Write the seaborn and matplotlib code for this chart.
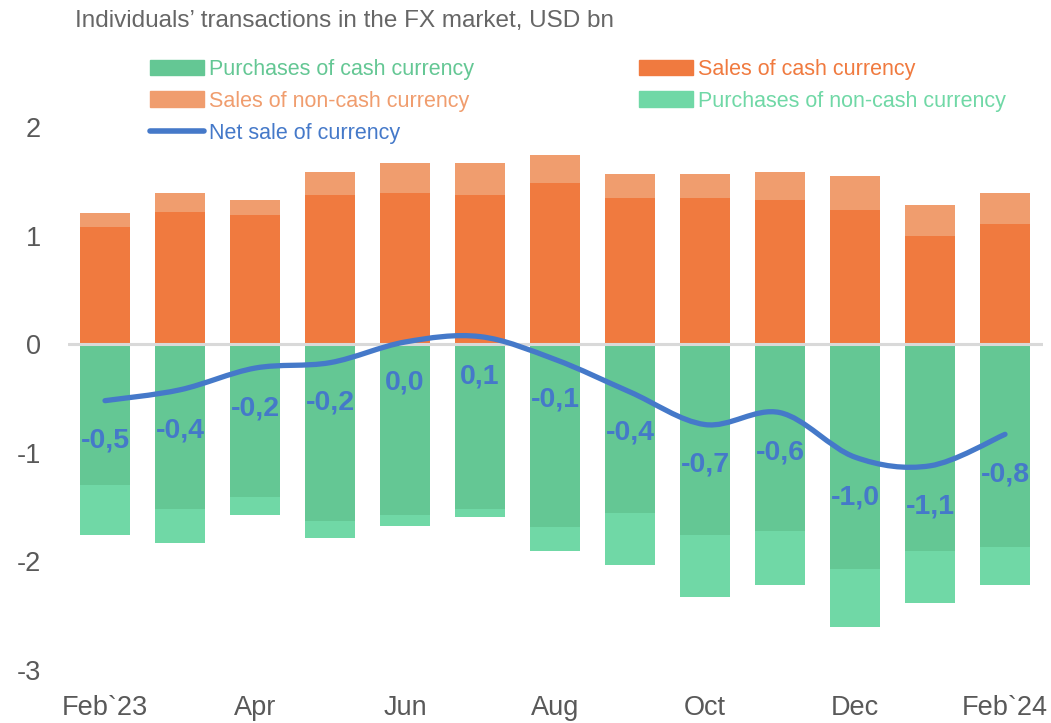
import numpy as np
import pandas as pd
import matplotlib
matplotlib.use("Agg")
import matplotlib.pyplot as plt
from matplotlib.path import Path
from matplotlib.patches import PathPatch, Patch
from matplotlib.lines import Line2D
import seaborn as sns

# values, USD bn
months = ["Feb`23", "Mar", "Apr", "May", "Jun", "Jul", "Aug",
          "Sep", "Oct", "Nov", "Dec", "Jan", "Feb`24"]
tick_labels = ["Feb`23", "Apr", "Jun", "Aug", "Oct", "Dec", "Feb`24"]
sales_cash = [1.08, 1.22, 1.19, 1.37, 1.39, 1.37, 1.48, 1.35, 1.35, 1.33, 1.24, 1.00, 1.11]
sales_noncash = [0.13, 0.17, 0.14, 0.22, 0.28, 0.30, 0.26, 0.22, 0.22, 0.26, 0.31, 0.28, 0.28]
purchases_cash = [1.30, 1.52, 1.41, 1.63, 1.57, 1.52, 1.68, 1.55, 1.76, 1.72, 2.07, 1.90, 1.87]
purchases_noncash = [0.46, 0.31, 0.16, 0.15, 0.10, 0.07, 0.22, 0.48, 0.57, 0.50, 0.53, 0.48, 0.35]
net_sale = [-0.52, -0.42, -0.22, -0.17, 0.02, 0.07, -0.14, -0.44, -0.74, -0.63, -1.04, -1.12, -0.83]

df = pd.DataFrame({
    "month": months,
    "sales_cash": sales_cash,
    "sales_total": np.add(sales_cash, sales_noncash),
    "purch_cash": -np.array(purchases_cash),
    "purch_total": -np.add(purchases_cash, purchases_noncash),
    "net": net_sale,
})

c_sales = "#F07A3F"
c_sales_nc = "#F09D6E"
c_purch = "#64C794"
c_purch_nc = "#70D8A6"
c_net = "#4579C9"
c_text = "#595959"

sns.set_style("white")
plt.rcParams["font.family"] = ["Liberation Sans", "DejaVu Sans"]

fig = plt.figure(figsize=(10.51, 7.23), dpi=100)
ax = fig.add_axes([67.5 / 1051, 53 / 723, 975 / 1051, 543 / 723])

bar_kw = dict(x="month", order=months, width=0.67, saturation=1, linewidth=0, ax=ax)
# totals first, cash parts drawn over them -> stacked look
sns.barplot(data=df, y="sales_total", color=c_sales_nc, **bar_kw)
sns.barplot(data=df, y="sales_cash", color=c_sales, **bar_kw)
sns.barplot(data=df, y="purch_total", color=c_purch_nc, **bar_kw)
sns.barplot(data=df, y="purch_cash", color=c_purch, **bar_kw)

ax.axhline(0, color="#D9D9D9", lw=2.2, zorder=3)

# smoothed net line (bezier through the monthly points)
pts = np.column_stack([np.arange(len(net_sale)), net_sale])
verts = [pts[0]]
codes = [Path.MOVETO]
for i in range(len(pts) - 1):
    p0 = pts[max(i - 1, 0)]
    p1 = pts[i]
    p2 = pts[i + 1]
    p3 = pts[min(i + 2, len(pts) - 1)]
    verts += [p1 + (p2 - p0) / 6, p2 - (p3 - p1) / 6, p2]
    codes += [Path.CURVE4] * 3
ax.add_patch(PathPatch(Path(verts, codes), fill=False, edgecolor=c_net,
                       lw=3.8, capstyle="round", joinstyle="round", zorder=4))

for i, v in enumerate(net_sale):
    ax.annotate(f"{v:.1f}".replace(".", ","), (i, v), xytext=(0, -29),
                textcoords="offset points", ha="center", va="center",
                fontsize=20.5, fontweight="bold", color=c_net, zorder=5)

ax.set_xlim(-0.5, len(months) - 0.5)
ax.set_ylim(-3, 2)
ax.set_yticks([-3, -2, -1, 0, 1, 2])
ax.set_yticklabels(["-3", "-2", "-1", "0", "1", "2"])
ax.set_xticks(range(0, len(months), 2))
ax.set_xticklabels(tick_labels)
ax.set_xlabel("")
ax.set_ylabel("")
ax.tick_params(axis="both", length=0, labelsize=19.5, labelcolor=c_text)
ax.tick_params(axis="y", pad=19)
ax.tick_params(axis="x", pad=18)
for s in ax.spines.values():
    s.set_visible(False)

fig.text(75 / 1051, 1 - 21 / 723, "Individuals\u2019 transactions in the FX market, USD bn",
         fontsize=17.5, color="#666666", ha="left", va="center")

leg_kw = dict(frameon=False, fontsize=15.5, handlelength=2.5, handleheight=0.75,
              handletextpad=0.25, labelspacing=0.5, borderpad=0, borderaxespad=0,
              loc="upper left")
h1 = [Patch(color=c_purch), Patch(color=c_sales_nc),
      Line2D([], [], color=c_net, lw=4, solid_capstyle="round")]
l1 = ["Purchases of cash currency", "Sales of non-cash currency", "Net sale of currency"]
leg1 = fig.legend(h1, l1, bbox_to_anchor=(150 / 1051, 1 - 59 / 723), **leg_kw)
for t, c in zip(leg1.get_texts(), [c_purch, c_sales_nc, c_net]):
    t.set_color(c)
h2 = [Patch(color=c_sales), Patch(color=c_purch_nc)]
l2 = ["Sales of cash currency", "Purchases of non-cash currency"]
leg2 = fig.legend(h2, l2, bbox_to_anchor=(639 / 1051, 1 - 59 / 723), **leg_kw)
for t, c in zip(leg2.get_texts(), [c_sales, c_purch_nc]):
    t.set_color(c)

fig.savefig("out.png", dpi=100)
